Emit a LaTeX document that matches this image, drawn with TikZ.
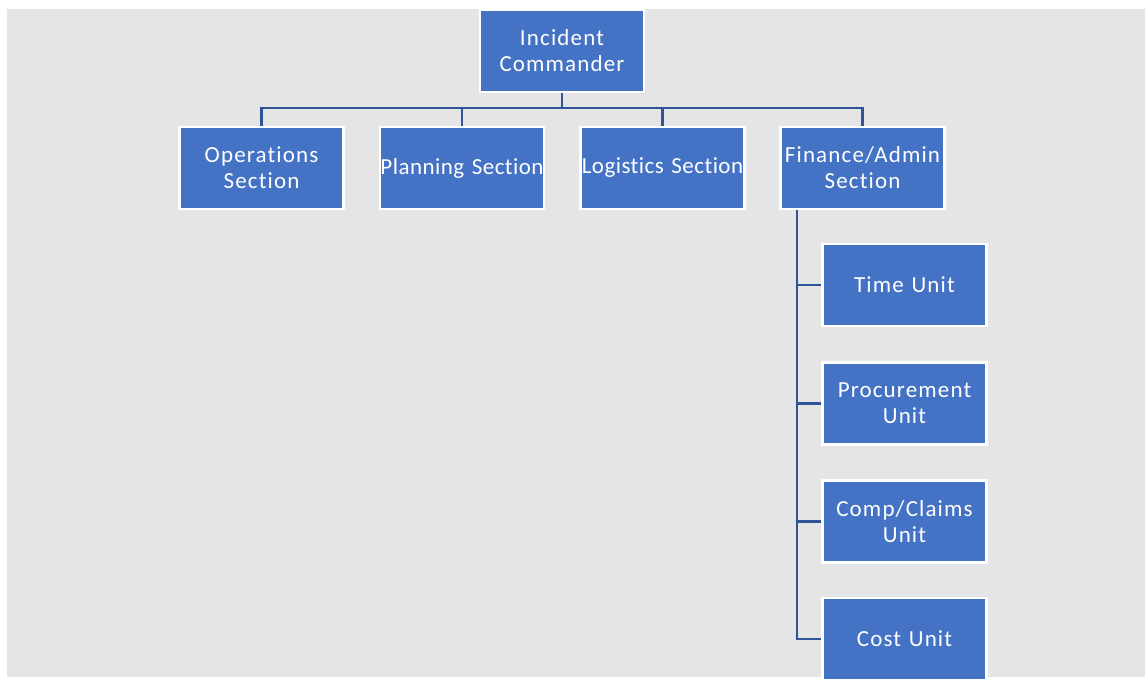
\documentclass[tikz,border=0pt]{standalone}
\usepackage{fontspec}
\setmainfont{Carlito}[LetterSpace=5, Ligatures={NoCommon}]
\definecolor{boxblue}{HTML}{4472C4}
\definecolor{linkblue}{HTML}{2F5597}
\definecolor{panel}{HTML}{E5E5E5}
% one-line labels that are a little wider than their box
\newcommand{\tightline}[1]{\raisebox{-1.5pt}{\addfontfeatures{LetterSpace=2}#1}}
\begin{document}
\begin{tikzpicture}[x=1pt,y=-1pt,
  orgbox/.style={fill=boxblue, draw=white, line width=2.5pt,
    text=white, align=center, inner xsep=0pt, inner ysep=0pt,
    text width=164pt, minimum height=82pt,
    font=\fontsize{23}{26}\selectfont},
  link/.style={draw=linkblue, line width=2.6pt}]
  \useasboundingbox (0,0) rectangle (1145,678);
  \fill[panel] (7,9) rectangle (1145,677);

  % top of the chart
  \node[orgbox] (ic) at (562,51) {Incident\\Commander};

  % sections
  \node[orgbox] (ops) at (261.5,168) {Operations\\Section};
  \node[orgbox] (plan) at (462,168) {\tightline{Planning Section}};
  \node[orgbox] (log) at (662.5,168) {\tightline{Logistics Section}};
  \node[orgbox] (fin) at (862.5,168) {Finance/Admin\\Section};

  % finance units
  \node[orgbox] (time) at (904.5,285) {Time Unit};
  \node[orgbox] (proc) at (904.5,403.5) {Procurement\\Unit};
  \node[orgbox] (comp) at (904.5,521.5) {Comp/Claims\\Unit};
  \node[orgbox] (cost) at (904.5,639) {Cost Unit};

  % command bus
  \coordinate (bus) at (562,108);
  \draw[link] (ic.south) -- (bus);
  \draw[link] (ops.north) |- (bus) -| (fin.north);
  \draw[link] (plan.north) -- (plan.north |- bus);
  \draw[link] (log.north) -- (log.north |- bus);

  % finance spine
  \coordinate (spine) at (797,210);
  \draw[link] (spine) |- (cost.west);
  \foreach \u in {time,proc,comp}
    \draw[link] (\u.west) -- (spine |- \u.west);
\end{tikzpicture}
\end{document}
